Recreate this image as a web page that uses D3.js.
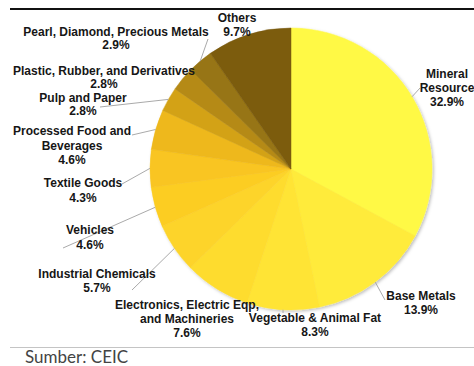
<!DOCTYPE html>
<html>
<head>
<meta charset="utf-8">
<script src="https://cdn.jsdelivr.net/npm/d3@7"></script>
<style>
  html, body { margin: 0; padding: 0; background: #fff; }
  svg { display: block; }
</style>
</head>
<body>
<svg id="chart" width="474" height="366"></svg>
<script>
// Export composition by commodity group (share of total, %)
const categories = [
  "Mineral Resource", "Base Metals", "Vegetable & Animal Fat",
  "Electronics, Electric Eqp, and Machineries", "Industrial Chemicals",
  "Vehicles", "Textile Goods", "Processed Food and Beverages",
  "Pulp and Paper", "Plastic, Rubber, and Derivatives",
  "Pearl, Diamond, Precious Metals", "Others"
];
const shares = [32.9, 13.9, 8.3, 7.6, 5.7, 4.6, 4.3, 4.6, 2.8, 2.8, 2.9, 9.7];
const sourceNote = "Sumber: CEIC";

// Slice fills, bright yellow fading to dark ochre
const palette = [
  "#fff944", "#ffeb3a", "#ffe434", "#fedc2f", "#fdd42a", "#fccd24",
  "#f9c520", "#eeb81c", "#d3a219", "#b58a16", "#977413", "#7b5b11"
];

// Label layout: text lines, centre x, first baseline, line step, optional leader end point
const labelLayout = [
  { lines: ["Mineral", "Resource", "32.9%"], x: 447, y: 78, step: 14, end: [420, 88] },
  { lines: ["Base Metals", "13.9%"], x: 421, y: 300, step: 13.5, end: [385, 300] },
  { lines: ["Vegetable & Animal Fat", "8.3%"], x: 315, y: 322, step: 14, end: [283, 313] },
  { lines: ["Electronics, Electric Eqp,", "and Machineries", "7.6%"], x: 187, y: 309, step: 14, end: null },
  { lines: ["Industrial Chemicals", "5.7%"], x: 97, y: 278, step: 14, end: [132, 290] },
  { lines: ["Vehicles", "4.6%"], x: 90, y: 234, step: 14.5, end: [63, 248] },
  { lines: ["Textile Goods", "4.3%"], x: 83, y: 187, step: 14.5, end: [122, 184] },
  { lines: ["Processed Food and", "Beverages", "4.6%"], x: 72, y: 135, step: 14.5, end: [132, 135] },
  { lines: ["Pulp and Paper", "2.8%"], x: 83, y: 102, step: 12.5, end: [100, 107] },
  { lines: ["Plastic, Rubber, and Derivatives", "2.8%"], x: 104, y: 75, step: 12.5, end: null },
  { lines: ["Pearl, Diamond, Precious Metals", "2.9%"], x: 116, y: 36, step: 13, end: [208, 39] },
  { lines: ["Others", "9.7%"], x: 237, y: 22, step: 14, end: null }
];

const svg = d3.select("#chart");
const cx = 291, cy = 169, radius = 141;

// Frame rules
svg.append("line")
  .attr("x1", 10).attr("x2", 474).attr("y1", 9).attr("y2", 9)
  .attr("stroke", "#111").attr("stroke-width", 2);
svg.append("line")
  .attr("x1", 10).attr("x2", 474).attr("y1", 347.5).attr("y2", 347.5)
  .attr("stroke", "#c4c4c4").attr("stroke-width", 1);

// Soft shadow under the pie
const defs = svg.append("defs");
const shadow = defs.append("filter").attr("id", "pieShadow")
  .attr("x", "-10%").attr("y", "-10%").attr("width", "120%").attr("height", "120%");
shadow.append("feDropShadow")
  .attr("dx", 1.5).attr("dy", 1.5).attr("stdDeviation", 1.5)
  .attr("flood-color", "#000").attr("flood-opacity", 0.25);

const pie = d3.pie().sort(null).value(d => d.value);
const arcs = pie(categories.map((c, i) => ({ name: c, value: shares[i], i })));
const arc = d3.arc().innerRadius(0).outerRadius(radius);

const g = svg.append("g").attr("transform", `translate(${cx},${cy})`);
g.append("g").attr("filter", "url(#pieShadow)")
  .selectAll("path").data(arcs).join("path")
  .attr("d", arc)
  .attr("fill", d => palette[d.data.i])
  .attr("stroke", d => palette[d.data.i])
  .attr("stroke-width", 0.5);

// Leader lines from slice edge midpoints to labels
const edgeArc = d3.arc().innerRadius(radius).outerRadius(radius);
const leaders = svg.append("g");
arcs.forEach((d, i) => {
  const lay = labelLayout[i];
  if (!lay.end) return;
  const [px, py] = edgeArc.centroid(d);
  leaders.append("line")
    .attr("x1", cx + px).attr("y1", cy + py)
    .attr("x2", lay.end[0]).attr("y2", lay.end[1])
    .attr("stroke", "#aaa").attr("stroke-width", 1);
});

// Labels
const labels = svg.append("g")
  .attr("font-family", "'Liberation Sans', Arial, sans-serif")
  .attr("font-weight", "bold")
  .attr("font-size", 12)
  .attr("fill", "#161616")
  .attr("text-anchor", "middle");
labelLayout.forEach(lay => {
  const t = labels.append("text").attr("x", lay.x).attr("y", lay.y);
  lay.lines.forEach((line, k) => {
    t.append("tspan").attr("x", lay.x).attr("y", lay.y + k * lay.step).text(line);
  });
});

// Source note
svg.append("text")
  .attr("x", 25).attr("y", 363)
  .attr("font-family", "Lato, 'Open Sans', sans-serif")
  .attr("font-size", 17)
  .attr("fill", "#444")
  .text(sourceNote);
</script>
</body>
</html>
